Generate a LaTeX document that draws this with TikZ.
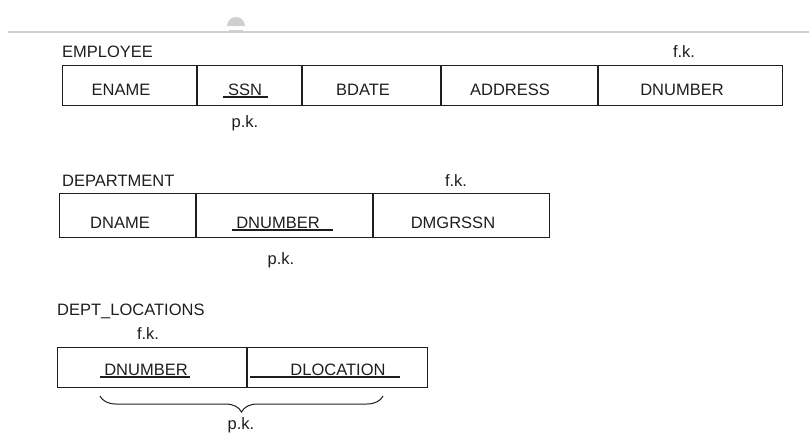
\documentclass[tikz,border=0pt]{standalone}
\usepackage{fontspec}
\setmainfont{Liberation Sans}
\usepackage{tikz}
\usetikzlibrary{calc,decorations.pathreplacing}
\definecolor{erink}{HTML}{1E1E1E}
\definecolor{ergray}{HTML}{CFCFCF}
\newcommand{\erfont}{\fontsize{16.5}{19}\selectfont}

\begin{document}
\begin{tikzpicture}[x=1pt,y=-1pt,
    tbl/.style   = {rectangle,draw=erink,line width=1.1pt,inner sep=0pt,anchor=north west},
    sep/.style   = {draw=erink,line width=1.1pt},
    attr/.style  = {font=\erfont,text=erink,anchor=base,inner sep=0pt},
    rel/.style   = {font=\erfont,text=erink,anchor=base west,inner sep=0pt},
    keyl/.style  = {draw=erink,line width=1.2pt},
    pkbrace/.style = {draw=erink,line width=1pt,decorate,
                      decoration={brace,mirror,amplitude=16pt}},
  ]
  \useasboundingbox (0,0) rectangle (809,434);

  % page rule and small mark at the top
  \draw[ergray,line width=1.2pt] (8,32) -- (809,32);
  \fill[ergray] (227,26) arc[start angle=180,end angle=360,radius=9] -- cycle;
  \draw[ergray,line width=0.8pt] (229,30) -- (243,30);

  % EMPLOYEE
  \node[rel]  (emp)     at (62,57)  {EMPLOYEE};
  \node[attr] (empfk)   at (684,57) {f.k.};
  \node[tbl,minimum width=720pt,minimum height=40pt] (emptab) at (62,65) {};
  \foreach \x in {197,302,441,598}
    \draw[sep] (\x,65) -- (\x,105);
  \node[attr] (ename)   at (121,95) {ENAME};
  \node[attr] (ssn)     at (245,95) {SSN};
  \node[attr] (bdate)   at (363,95) {BDATE};
  \node[attr] (address) at (510,95) {ADDRESS};
  \node[attr] (dnoemp)  at (682,95) {DNUMBER};
  \draw[keyl] (223,97) -- (268,97);
  \node[attr] (emppk)   at (245,127) {p.k.};

  % DEPARTMENT
  \node[rel]  (dept)    at (62,186)  {DEPARTMENT};
  \node[attr] (deptfk)  at (456,186) {f.k.};
  \node[tbl,minimum width=490pt,minimum height=44pt] (depttab) at (59,193) {};
  \foreach \x in {196,373}
    \draw[sep] (\x,193) -- (\x,237);
  \node[attr] (dname)   at (120,228) {DNAME};
  \node[attr] (dnodept) at (278,228) {DNUMBER};
  \node[attr] (dmgr)    at (453,228) {DMGRSSN};
  \draw[keyl] (232,230) -- (333,230);
  \node[attr] (deptpk)  at (281,264) {p.k.};

  % DEPT_LOCATIONS
  \node[rel]  (locs)    at (57,315)  {DEPT\_LOCATIONS};
  \node[attr] (locsfk)  at (148,339) {f.k.};
  \node[tbl,minimum width=370pt,minimum height=40pt] (locstab) at (57,347) {};
  \draw[sep] (247,347) -- (247,387);
  \node[attr] (dnoloc)  at (146,375) {DNUMBER};
  \node[attr] (dloc)    at (338,375) {DLOCATION};
  \draw[keyl] (100,377) -- (190,377);
  \draw[keyl] (250,377) -- (400,377);
  \draw[pkbrace] (100,396) -- (383,396);
  \node[attr] (locspk)  at (241,429) {p.k.};

\end{tikzpicture}
\end{document}
